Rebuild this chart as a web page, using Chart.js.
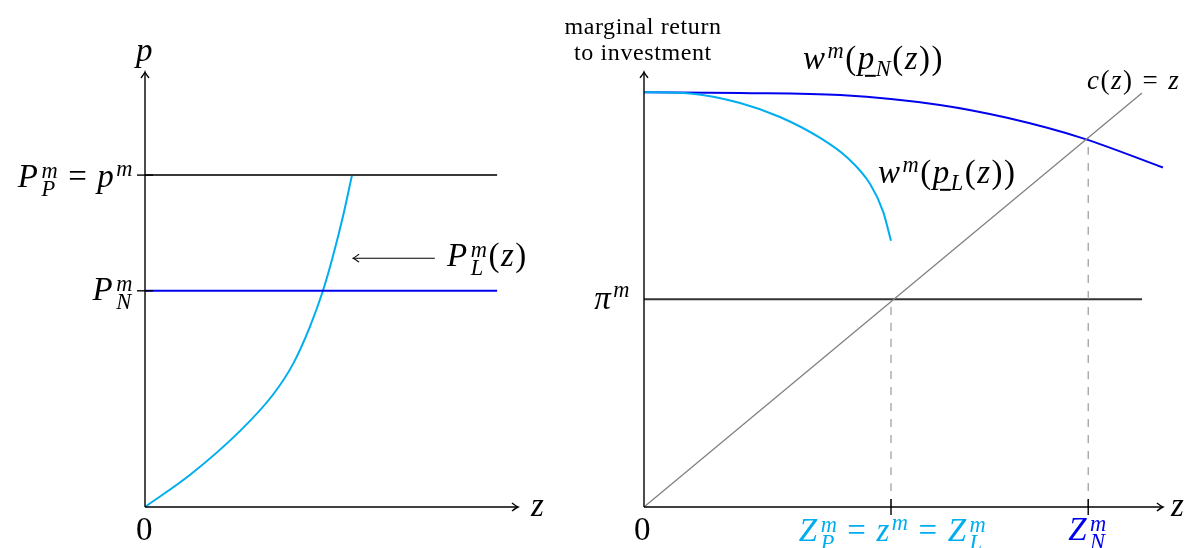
<!DOCTYPE html>
<html>
<head>
<meta charset="utf-8">
<script src="https://cdn.jsdelivr.net/npm/chart.js@4"></script>
<style>
  html, body { margin: 0; padding: 0; background: #fff; }
  #wrap { position: relative; width: 1190px; height: 548px; overflow: hidden; }
  canvas { position: absolute; top: 0; }
  .m { position: absolute; font-family: "Liberation Serif", "DejaVu Serif", serif; font-size: 33px; line-height: 1; white-space: nowrap; color: #000; letter-spacing: 1.5px; }
  .m i { font-style: italic; }
  .ss { display: inline-flex; flex-direction: column; font-size: 0.68em; line-height: 0.82; vertical-align: 0.42em; font-style: italic; margin-left: 2px; }
  .sup { font-size: 0.68em; vertical-align: 0.5em; font-style: italic; margin-left: 1px; }
  .sub { font-size: 0.68em; vertical-align: -0.3em; font-style: italic; }
  .ul { text-decoration: underline; text-underline-offset: 6px; text-decoration-thickness: 1.5px; }
  .eq { margin: 0 9px; }
  .txt { font-size: 24px; text-align: center; line-height: 26px; letter-spacing: 0.6px; }
  .small { font-size: 27px; }
</style>
</head>
<body>
<div id="wrap">
  <canvas id="left" width="595" height="548" style="left:0"></canvas>
  <canvas id="right" width="595" height="548" style="left:595px"></canvas>
</div>
<script>
// ---- left panel: prices p against z ----
const leftCurveZ = [0, 1.21, 2.55, 3.43, 3.97, 4.42, 4.77, 5.04, 5.31, 5.55];
const leftCurveP = [0, 0.74, 1.75, 2.58, 3.29, 4.14, 4.97, 5.77, 6.69, 7.63];
const leftLevels = [7.63, 4.97];      // P_P^m = p^m, P_N^m
const leftLevelEnd = 9.44;
const leftAxisEnd = [10, 10];

// ---- right panel: marginal return to investment ----
const blueZ = [0, 1.93, 3.94, 5.94, 7.29, 8.80, 10.42];
const blueW = [10.02, 10.0, 9.95, 9.71, 9.40, 8.91, 8.20];
const cyanZ = [0, 0.92, 1.93, 2.73, 3.53, 4.08, 4.54, 4.80, 4.96];
const cyanW = [10.02, 9.99, 9.76, 9.42, 8.92, 8.44, 7.80, 7.14, 6.43];
const costZ = [0, 10];
const piLevel = 5.02;
const piEnd = 10;
const zTicks = [4.96, 8.92];          // Z_P^m = z^m = Z_L^m, Z_N^m
const zTickTops = [5.02, 8.94];
const rightAxisEnd = [10.42, 10.51];

const CYAN = '#00aeef';
const BLUE = '#0000ee';

// where each panel's origin sits and how many px one unit takes
const leftFrame = { left: 0, width: 595, ox: 145, oy: 507, ux: 37.3, uy: 43.5 };
const rightFrame = { left: 595, width: 595, ox: 644, oy: 507, ux: 49.8, uy: 41.4 };

function bounds(f) {
  return {
    x: { type: 'linear', display: false, min: (f.left - f.ox) / f.ux, max: (f.left + f.width - f.ox) / f.ux },
    y: { type: 'linear', display: false, min: (f.oy - 548) / f.uy, max: f.oy / f.uy }
  };
}

function pts(xs, ys) {
  return xs.map((x, i) => ({ x: x, y: ys[i] }));
}

function arrowHead(ctx, x, y, dx, dy) {
  const nx = -dy, ny = dx;
  ctx.beginPath();
  ctx.moveTo(x - 6 * dx + 4 * nx, y - 6 * dy + 4 * ny);
  ctx.quadraticCurveTo(x - 1.5 * dx + 0.6 * nx, y - 1.5 * dy + 0.6 * ny, x, y);
  ctx.quadraticCurveTo(x - 1.5 * dx - 0.6 * nx, y - 1.5 * dy - 0.6 * ny, x - 6 * dx - 4 * nx, y - 6 * dy - 4 * ny);
  ctx.stroke();
}

function line(ctx, x1, y1, x2, y2) {
  ctx.beginPath();
  ctx.moveTo(x1, y1);
  ctx.lineTo(x2, y2);
  ctx.stroke();
}

// axes with arrow tips, small ticks, plus the P_L^m pointer
const axesPlugin = {
  id: 'axes',
  afterDatasetsDraw(chart, args, opts) {
    const ctx = chart.ctx;
    const X = v => chart.scales.x.getPixelForValue(v);
    const Y = v => chart.scales.y.getPixelForValue(v);
    ctx.save();
    ctx.strokeStyle = '#000';
    ctx.lineWidth = 1.4;
    ctx.lineCap = 'butt';
    const x0 = X(0), y0 = Y(0);
    line(ctx, x0, y0, X(opts.end[0]) - 1, y0);
    arrowHead(ctx, X(opts.end[0]), y0, 1, 0);
    line(ctx, x0, y0, x0, Y(opts.end[1]) + 1);
    arrowHead(ctx, x0, Y(opts.end[1]), 0, -1);
    (opts.yTicks || []).forEach(v => line(ctx, x0 - 8, Y(v), x0 + 8, Y(v)));
    (opts.xTicks || []).forEach(v => line(ctx, X(v), y0 - 8, X(v), y0 + 8));
    if (opts.pointer) {
      const p = opts.pointer;
      ctx.lineWidth = 1.1;
      line(ctx, X(p[0]), Y(p[2]), X(p[1]) + 1, Y(p[2]));
      arrowHead(ctx, X(p[1]), Y(p[2]), -1, 0);
    }
    ctx.restore();
  }
};

const lineStyle = { showLine: true, pointRadius: 0, fill: false, cubicInterpolationMode: 'monotone' };

new Chart(document.getElementById('left'), {
  type: 'scatter',
  data: {
    datasets: [
      Object.assign({ data: pts([0, leftLevelEnd], [leftLevels[0], leftLevels[0]]), borderColor: '#3a3a3a', borderWidth: 2 }, lineStyle),
      Object.assign({ data: pts([0, leftLevelEnd], [leftLevels[1], leftLevels[1]]), borderColor: BLUE, borderWidth: 2 }, lineStyle),
      Object.assign({ data: pts(leftCurveZ, leftCurveP), borderColor: CYAN, borderWidth: 2 }, lineStyle)
    ]
  },
  options: {
    responsive: false,
    animation: false,
    events: [],
    layout: { padding: 0 },
    scales: bounds(leftFrame),
    plugins: {
      legend: { display: false },
      tooltip: { enabled: false },
      axes: { end: leftAxisEnd, yTicks: leftLevels, pointer: [7.77, 5.58, 5.72] }
    }
  },
  plugins: [axesPlugin]
});

new Chart(document.getElementById('right'), {
  type: 'scatter',
  data: {
    datasets: [
      Object.assign({ data: pts(costZ, costZ), borderColor: '#808080', borderWidth: 1.3 }, lineStyle),
      Object.assign({ data: pts([zTicks[0], zTicks[0]], [0, zTickTops[0]]), borderColor: '#9a9a9a', borderWidth: 1.2, borderDash: [8, 8] }, lineStyle),
      Object.assign({ data: pts([zTicks[1], zTicks[1]], [0, zTickTops[1]]), borderColor: '#9a9a9a', borderWidth: 1.2, borderDash: [8, 8] }, lineStyle),
      Object.assign({ data: pts([0, piEnd], [piLevel, piLevel]), borderColor: '#333', borderWidth: 2 }, lineStyle),
      Object.assign({ data: pts(cyanZ, cyanW), borderColor: CYAN, borderWidth: 2 }, lineStyle),
      Object.assign({ data: pts(blueZ, blueW), borderColor: BLUE, borderWidth: 2 }, lineStyle)
    ]
  },
  options: {
    responsive: false,
    animation: false,
    events: [],
    layout: { padding: 0 },
    scales: bounds(rightFrame),
    plugins: {
      legend: { display: false },
      tooltip: { enabled: false },
      axes: { end: rightAxisEnd, xTicks: zTicks }
    }
  },
  plugins: [axesPlugin]
});

// text labels: [html, x, y, anchorX, anchorY, extra class, colour]
const labels = [
  ['<i>p</i>', 145, 50, 0.5, 0.5],
  ['<i>z</i>', 531, 505, 0, 0.5],
  ['0', 145, 529, 0.5, 0.5],
  ['<i>P</i><span class="ss"><span>m</span><span>P</span></span><span class="eq">=</span><i>p</i><span class="sup">m</span>', 134, 178, 1, 0.5],
  ['<i>P</i><span class="ss"><span>m</span><span>N</span></span>', 134, 292, 1, 0.5],
  ['<i>P</i><span class="ss"><span>m</span><span>L</span></span>(<i>z</i>)', 447, 258, 0, 0.5],
  ['marginal return<br>to investment', 643, 39, 0.5, 0.5, 'txt'],
  ['<i>w</i><span class="sup">m</span>(<i class="ul">p</i><span class="sub">N</span>(<i>z</i>))', 803, 60, 0, 0.5],
  ['<i>w</i><span class="sup">m</span>(<i class="ul">p</i><span class="sub">L</span>(<i>z</i>))', 878, 174, 0, 0.5],
  ['<i>c</i>(<i>z</i>)<span class="eq">=</span><i>z</i>', 1087, 80, 0, 0.5, 'small'],
  ['<i>π</i><span class="sup">m</span>', 631, 297, 1, 0.5],
  ['0', 643, 529, 0.5, 0.5],
  ['<i>z</i>', 1171, 505, 0, 0.5],
  ['<i>Z</i><span class="ss"><span>m</span><span>P</span></span><span class="eq">=</span><i>z</i><span class="sup">m</span><span class="eq">=</span><i>Z</i><span class="ss"><span>m</span><span>L</span></span>', 893, 532, 0.5, 0.5, '', CYAN],
  ['<i>Z</i><span class="ss"><span>m</span><span>N</span></span>', 1088, 532, 0.5, 0.5, '', BLUE]
];

const wrap = document.getElementById('wrap');
labels.forEach(l => {
  const d = document.createElement('div');
  d.className = 'm ' + (l[5] || '');
  d.innerHTML = l[0];
  d.style.left = l[1] + 'px';
  d.style.top = l[2] + 'px';
  d.style.transform = 'translate(' + (-l[3] * 100) + '%,' + (-l[4] * 100) + '%)';
  if (l[6]) d.style.color = l[6];
  wrap.appendChild(d);
});
</script>
</body>
</html>
